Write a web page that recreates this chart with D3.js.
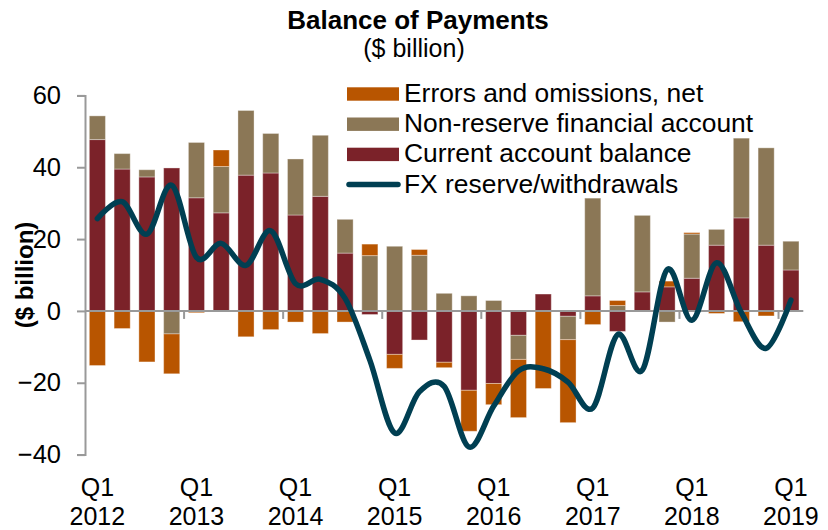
<!DOCTYPE html>
<html>
<head>
<meta charset="utf-8">
<script src="https://cdn.jsdelivr.net/npm/d3@7"></script>
<style>
  body { margin: 0; background: #fff; }
  svg text { font-family: 'Liberation Sans', Arial, sans-serif; fill: #000; }
</style>
</head>
<body>
<div id="chart"></div>
<script>
const quarters = [
  'Q1 2012', 'Q2 2012', 'Q3 2012', 'Q4 2012',
  'Q1 2013', 'Q2 2013', 'Q3 2013', 'Q4 2013',
  'Q1 2014', 'Q2 2014', 'Q3 2014', 'Q4 2014',
  'Q1 2015', 'Q2 2015', 'Q3 2015', 'Q4 2015',
  'Q1 2016', 'Q2 2016', 'Q3 2016', 'Q4 2016',
  'Q1 2017', 'Q2 2017', 'Q3 2017', 'Q4 2017',
  'Q1 2018', 'Q2 2018', 'Q3 2018', 'Q4 2018',
  'Q1 2019'
];

// $ billion
const currentAccount = [
  47.7, 39.5, 37.3, 39.8, 31.5, 27.3, 37.8, 38.4, 26.7, 31.9, 16.1, -1.0,
  -12.1, -8.1, -14.3, -22.1, -20.2, -6.8, 4.7, -1.5, 4.2, -5.7, 5.3, 6.7,
  9.1, 18.3, 25.9, 18.3, 11.4
];
const nonReserve = [
  6.6, 4.3, 2.0, -6.4, 15.4, 12.9, 18.0, 11.0, 15.6, 17.0, 9.4, 15.4,
  18.0, 15.5, 4.9, 4.2, 2.9, -6.7, 0, -6.5, 27.2, 1.5, 21.3, -3.1,
  12.3, 4.4, 22.2, 27.1, 8.0
];
const errors = [
  -15.2, -4.9, -14.2, -11.1, -0.5, 4.6, -7.2, -5.2, -3.1, -6.3, -3.1, 3.2,
  -3.9, 1.6, -1.5, -11.4, -5.9, -16.2, -21.6, -23.1, -3.8, 1.4, 0, 1.6,
  0.4, -0.7, -3.0, -1.4, 0
];
const fxReserve = [
  25.7, 30.4, 21.4, 35.0, 14.9, 18.8, 12.7, 22.3, 7.6, 8.8, 3.5, -13.7,
  -34.0, -22.5, -21.0, -37.9, -26.5, -16.7, -16.1, -19.8, -27.0, -6.6, -16.5, 11.5,
  -2.6, 13.4, -0.5, -10.4, 3.0
];

const yTicks = [60, 40, 20, 0, -20, -40];

const seriesKeys = ['current', 'nonReserve', 'errors'];
const seriesNames = {
  errors: 'Errors and omissions, net',
  nonReserve: 'Non-reserve financial account',
  current: 'Current account balance',
  fx: 'FX reserve/withdrawals'
};
const colors = {
  current: '#7b2229',
  nonReserve: '#8b7756',
  errors: '#b85500',
  fx: '#003f52'
};

let width = 828;
let height = 530;

let rows = quarters.map((q, i) => {
  return {
    q: q,
    current: currentAccount[i],
    nonReserve: nonReserve[i],
    errors: errors[i],
    fx: fxReserve[i]
  };
});

let svg = d3
  .select('#chart')
  .append('svg')
  .attr('width', width)
  .attr('height', height);

let x = d3
  .scaleBand()
  .domain(quarters)
  .range([85, 803.3])
  .paddingInner(0.35)
  .paddingOuter(0.175);

let y = d3.scaleLinear().domain([-40, 60]).range([454.6, 95.4]);

/* TITLES */
svg
  .append('text')
  .attr('x', 418)
  .attr('y', 29)
  .attr('text-anchor', 'middle')
  .style('font-size', '26px')
  .style('font-weight', 'bold')
  .text('Balance of Payments');

svg
  .append('text')
  .attr('x', 414)
  .attr('y', 57)
  .attr('text-anchor', 'middle')
  .style('font-size', '25px')
  .text('($ billion)');

svg
  .append('text')
  .attr('transform', 'translate(33,275) rotate(-90)')
  .attr('text-anchor', 'middle')
  .style('font-size', '24px')
  .style('font-weight', 'bold')
  .text('($ billion)');

/* BARS */
let stacked = d3
  .stack()
  .keys(seriesKeys)
  .offset(d3.stackOffsetDiverging)(rows);

let plot = svg.append('g').attr('class', 'chart-g');

plot
  .selectAll('g.series')
  .data(stacked)
  .join('g')
  .attr('class', 'series')
  .attr('fill', (s) => colors[s.key])
  .selectAll('rect')
  .data((s) => s)
  .join('rect')
  .attr('x', (d) => x(d.data.q))
  .attr('width', x.bandwidth())
  .attr('y', (d) => y(Math.max(d[0], d[1])))
  .attr('height', (d) => Math.abs(y(d[0]) - y(d[1])))
  .attr('stroke', 'rgba(255,255,255,0.35)')
  .attr('stroke-width', 1);

/* AXES */
let yAxis = svg
  .append('g')
  .attr('class', 'y-axis')
  .attr('transform', 'translate(85,0)')
  .call(
    d3
      .axisLeft(y)
      .tickValues(yTicks)
      .tickSize(8)
      .tickPadding(16)
      .tickFormat(d3.format('d'))
  );

yAxis.select('.domain').attr('stroke', '#999').attr('stroke-width', 2);
yAxis.selectAll('.tick line').attr('stroke', '#999').attr('stroke-width', 2);
yAxis
  .selectAll('.tick text')
  .style('font-size', '25.5px')
  .style('font-family', "'Liberation Sans', Arial, sans-serif")
  .attr('fill', '#000');

// zero line with ticks at year boundaries
svg
  .append('line')
  .attr('x1', x.range()[0])
  .attr('x2', x.range()[1])
  .attr('y1', y(0))
  .attr('y2', y(0))
  .attr('stroke', '#999')
  .attr('stroke-width', 2);

let firstQs = quarters.filter((q) => q.startsWith('Q1'));

svg
  .append('g')
  .attr('class', 'year-ticks')
  .selectAll('line')
  .data(firstQs.slice(1))
  .join('line')
  .attr('x1', (d) => x(d) - (x.step() * x.paddingInner()) / 2)
  .attr('x2', (d) => x(d) - (x.step() * x.paddingInner()) / 2)
  .attr('y1', y(0))
  .attr('y2', y(0) + 8)
  .attr('stroke', '#999')
  .attr('stroke-width', 2);

let lbls = svg
  .append('g')
  .attr('class', 'x-labels')
  .selectAll('text')
  .data(firstQs)
  .join('text')
  .attr('text-anchor', 'middle')
  .style('font-size', '25px');

lbls
  .append('tspan')
  .attr('x', (d) => x(d) + x.bandwidth() / 2)
  .attr('y', 496)
  .text((d) => d.split(' ')[0]);

lbls
  .append('tspan')
  .attr('x', (d) => x(d) + x.bandwidth() / 2)
  .attr('y', 525)
  .text((d) => d.split(' ')[1]);

/* FX LINE */
let line = d3
  .line()
  .x((d) => x(d.q) + x.bandwidth() / 2)
  .y((d) => y(d.fx))
  .curve(d3.curveCardinal.tension(0));

svg
  .append('path')
  .datum(rows)
  .attr('d', line)
  .attr('fill', 'none')
  .attr('stroke', colors.fx)
  .attr('stroke-width', 5.5)
  .attr('stroke-linecap', 'round')
  .attr('stroke-linejoin', 'round');

/* KEY */
let keyItems = ['errors', 'nonReserve', 'current', 'fx'];

let key = svg
  .append('g')
  .attr('class', 'key')
  .selectAll('g')
  .data(keyItems)
  .join('g')
  .attr('transform', (d, i) => `translate(347,${94 + i * 30.2})`);

key
  .filter((d) => d !== 'fx')
  .append('rect')
  .attr('x', 0)
  .attr('y', -6.7)
  .attr('width', 52)
  .attr('height', 13.4)
  .attr('fill', (d) => colors[d]);

key
  .filter((d) => d === 'fx')
  .append('line')
  .attr('x1', 2)
  .attr('x2', 51)
  .attr('y1', 0)
  .attr('y2', 0)
  .attr('stroke', colors.fx)
  .attr('stroke-width', 5.5)
  .attr('stroke-linecap', 'round');

key
  .append('text')
  .attr('x', 57)
  .attr('y', 8)
  .style('font-size', '26.4px')
  .text((d) => seriesNames[d]);
</script>
</body>
</html>
